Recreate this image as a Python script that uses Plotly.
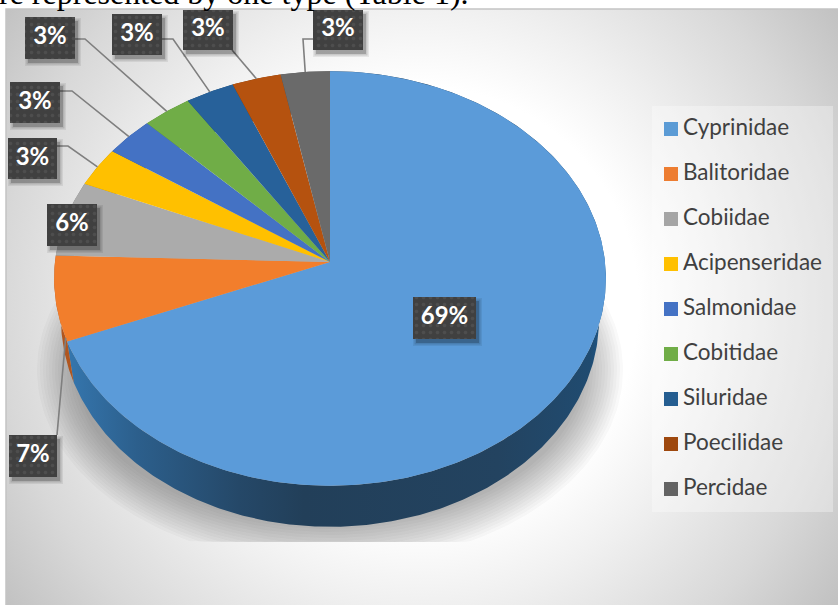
import numpy as np
import plotly.graph_objects as go

# Fish families and their share of the species count, in percent
families = ["Cyprinidae", "Balitoridae", "Cobiidae", "Acipenseridae", "Salmonidae",
            "Cobitidae", "Siluridae", "Poecilidae", "Percidae"]
shares = [68.9, 6.6, 5.9, 3.1, 3.1, 3.1, 3.1, 3.1, 3.1]

legend_colors = ["#5B9BD5", "#ED7D31", "#A5A5A5", "#FFC000", "#4472C4",
                 "#70AD47", "#255E91", "#9E480E", "#636363"]
face_colors = ["#5B9BD9", "#F27E2C", "#ABABAB", "#FFC000", "#4472C4",
               "#70AD47", "#27619A", "#B5520F", "#6A6A6A"]
wall_colors = ["#2A5F8E", "#B0561F", "#7A7A7A", "#BF9000", "#335593",
               "#548235", "#1C466D", "#763609", "#4A4A4A"]

W, H = 838, 605

# Tilted-disc projection of the pie
CX, CY = 330, 262
AX, AY, TILT = 275, 206, 0.0795
DEPTH = 41
LOWER_RIM_SCALE = 0.975


def project(theta_deg, r=1.0):
    t = np.radians(theta_deg)
    u, v = r * np.sin(t), r * np.cos(t)
    w = 1 + TILT * v
    return CX + AX * u / w, CY - AY * v / w


edges = np.concatenate([[0], np.cumsum(shares)]) * 3.6
mids = (edges[:-1] + edges[1:]) / 2

fig = go.Figure()


def polygon(x, y, **kw):
    kw.setdefault("line", dict(width=0))
    fig.add_trace(go.Scatter(x=x, y=y, mode="lines", fill="toself",
                             hoverinfo="skip", showlegend=False, **kw))


# Backdrop with a soft circular glow; the square runs past the page so the glow stays round
GLOW = 560
polygon([420 - GLOW, 420 + GLOW, 420 + GLOW, 420 - GLOW, 420 - GLOW],
        [305 - GLOW, 305 - GLOW, 305 + GLOW, 305 + GLOW, 305 - GLOW],
        fillgradient=dict(type="radial",
                          colorscale=[[0, "#ffffff"], [0.39, "#ffffff"], [0.535, "#f0f0f0"],
                                      [0.75, "#d8d8d8"], [0.91, "#c2c2c2"], [1, "#bbbbbb"]]))

# White page margin around the backdrop, with a thin grey edge
polygon([-2, 6, 6, -2, -2], [-2, -2, H + 2, H + 2, -2], fillcolor="#ffffff")
polygon([-2, W + 2, W + 2, -2, -2], [-2, -2, 9, 9, -2], fillcolor="#ffffff")
fig.add_trace(go.Scatter(x=[6, 6, W + 2], y=[H + 2, 9, 9], mode="lines", hoverinfo="skip",
                         showlegend=False, line=dict(color="#c4c4c4", width=1.5)))

# Soft ground shadow, cut off at a straight bottom edge
sh_t = np.linspace(0, 2 * np.pi, 241)
for i in range(14):
    rx = 293 - i * 3.0
    ry = 195 - i * 3.0
    sx = 330 + rx * np.sin(sh_t)
    sy = np.minimum(370 - ry * np.cos(sh_t), 542)
    polygon(sx, sy, fillcolor="rgba(50,50,50,0.026)")

# Side walls of the disc
for i in range(len(shares)):
    th = np.linspace(edges[i], edges[i + 1], max(int(shares[i] * 5), 6))
    ax, ay = project(th)
    lx = CX + (ax - CX) * LOWER_RIM_SCALE
    wx = np.concatenate([ax, lx[::-1]])
    wy = np.concatenate([ay, ay[::-1] + DEPTH])
    if i == 0:
        polygon(wx, wy, fillgradient=dict(
            type="horizontal",
            colorscale=[[0, "#3576AE"], [0.13, "#2C5F8C"], [0.32, "#254868"], [0.44, "#223F59"],
                        [0.8, "#234360"], [0.97, "#204B70"], [1, "#1B5A90"]]))
    else:
        polygon(wx, wy, fillcolor=wall_colors[i])

# Top faces of the slices
for i in range(len(shares)):
    th = np.linspace(edges[i], edges[i + 1], max(int(shares[i] * 5), 6))
    ax, ay = project(th)
    polygon(np.concatenate([[CX], ax, [CX]]), np.concatenate([[CY], ay, [CY]]),
            fillcolor=face_colors[i])

# Label boxes: left, right, top, bottom
boxes = [(413, 476, 297, 339), (9, 57, 435, 477), (47, 97, 204, 246), (8, 57, 138, 179),
         (10, 60, 82, 123), (25, 75, 17, 59), (112, 162, 14, 55), (183, 233, 10, 50),
         (313, 363, 10, 50)]

# Elbow points of the leader lines, from box edge towards the rim
leaders = {1: [(57, 435)],
           3: [(57, 146), (68, 146)],
           4: [(60, 91), (72, 91)],
           5: [(75, 39), (85, 39)],
           6: [(162, 39), (173, 39)],
           7: [(232, 50)],
           8: [(313, 39), (303, 39)]}
# The Balitoridae leader meets the rim close to the slice's lower corner
leader_angles = dict(enumerate(mids))
leader_angles[1] = edges[1] + 1.0
for i, pts in leaders.items():
    ex, ey = project(leader_angles[i])
    xs = [p[0] for p in pts] + [float(ex)]
    ys = [p[1] for p in pts] + [float(ey)]
    fig.add_trace(go.Scatter(x=xs, y=ys, mode="lines", hoverinfo="skip", showlegend=False,
                             line=dict(color="#7f7f7f", width=1.6)))

# Box shadows and dotted box fills
for l, r, t, b in boxes:
    for grow, alpha in [(3, 0.07), (1.5, 0.12), (0, 0.2)]:
        polygon([l + 3 - grow, r + 3 + grow, r + 3 + grow, l + 3 - grow, l + 3 - grow],
                [t + 4 - grow, t + 4 - grow, b + 4 + grow, b + 4 + grow, t + 4 - grow],
                fillcolor=f"rgba(0,0,0,{alpha})")
    polygon([l, r, r, l, l], [t, t, b, b, t], fillcolor="#404040",
            fillpattern=dict(shape=".", bgcolor="#404040", fgcolor="#5c5c5c", size=7, solidity=0.2))

fig.add_trace(go.Scatter(
    x=[(b[0] + b[1]) / 2 for b in boxes],
    y=[(b[2] + b[3]) / 2 for b in boxes],
    mode="text", text=[f"{round(v)}%" for v in shares], textposition="middle center",
    textfont=dict(family="Lato", size=24, color="#ffffff", weight=700),
    hoverinfo="skip", showlegend=False))

# Legend panel with swatches and names
polygon([652, 833, 833, 652, 652], [106, 106, 512, 512, 106], fillcolor="rgba(255,255,255,0.32)")
legend_rows = [129 + 45 * i for i in range(len(families))]
fig.add_trace(go.Scatter(
    x=[671] * len(families), y=legend_rows, mode="markers",
    marker=dict(symbol="square", size=14, color=legend_colors, line=dict(width=0)),
    hoverinfo="skip", showlegend=False))
fig.add_trace(go.Scatter(
    x=[683] * len(families), y=legend_rows, mode="text",
    text=families, textposition="middle right",
    textfont=dict(family="Lato", size=22.5, color="#404040"),
    hoverinfo="skip", showlegend=False))

fig.update_layout(
    width=W, height=H, autosize=False,
    margin=dict(l=0, r=0, t=0, b=0),
    paper_bgcolor="#ffffff", plot_bgcolor="rgba(0,0,0,0)", showlegend=False,
    xaxis=dict(range=[0, W], visible=False, fixedrange=True),
    yaxis=dict(range=[H, 0], visible=False, fixedrange=True),
    annotations=[dict(text="re represented by one type (Table 1).", xref="paper", yref="paper",
                      x=0, y=1, xshift=-3, yshift=7, xanchor="left", yanchor="middle",
                      showarrow=False,
                      font=dict(family="Liberation Serif", size=32, color="#000000"))],
)

fig.write_html("out.html", config=dict(displayModeBar=False))
